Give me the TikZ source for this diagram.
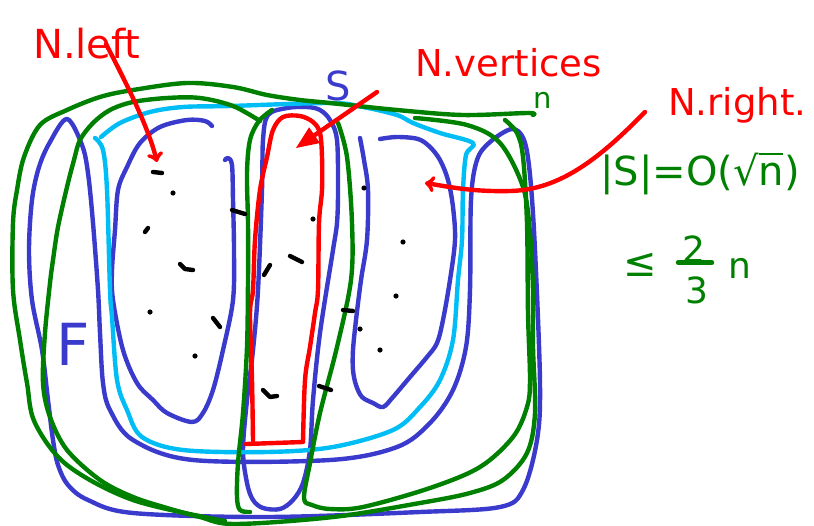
\documentclass[tikz,border=0pt]{standalone}
\usepackage{fontspec}
\setmainfont{DejaVu Sans}
\usetikzlibrary{arrows,positioning}
\definecolor{penblue}{RGB}{58,58,205}
\definecolor{pencyan}{RGB}{0,190,245}
\definecolor{pengreen}{RGB}{0,128,0}
\definecolor{penred}{RGB}{255,0,0}

\begin{document}
\begin{tikzpicture}[x=1pt, y=-1pt,
  pen/.style={line width=4.4pt, line cap=round, line join=round},
  vtick/.style={pen, black},
  vdot/.style={fill=black, radius=2.6pt},
  label/.style={inner sep=0pt, anchor=base west}]
\useasboundingbox (0,0) rectangle (814,525);

% region F: outer blue ring
\draw[pen, penblue] plot[smooth cycle, tension=0.55] coordinates {
  (67,119) (50,142) (39,167) (32,200) (29,250) (32,300) (42,350) (48,400)
  (53,440) (58,465) (68,485) (88,500) (133,513) (267,517) (420,512)
  (500,507) (523,490) (537,440) (540,383) (535,250) (530,175) (524,140)
  (512,129) (490,142) (477,160) (471,200) (470,290) (466,347) (453,390)
  (430,423) (397,447) (330,460) (193,460) (133,440) (110,410) (103,383)
  (100,333) (98,290) (93,223) (88,173) (82,145)};

% left part
\draw[pen, penblue] plot[smooth, tension=0.55] coordinates {
  (212,126) (205,121) (187,120) (160,127) (140,143) (127,167) (118,190)
  (115,230) (112,270) (113,300) (123,350) (137,383) (153,400) (167,413)
  (192,422) (203,413) (213,390) (223,350) (233,300) (234,250) (233,200)
  (232,165) (228,158) (225,160)};

% separator S
\draw[pen, penblue] plot[smooth cycle, tension=0.55] coordinates {
  (268,115) (287,108) (307,107) (320,110) (330,120) (337,140) (338,190)
  (337,223) (333,250) (320,333) (313,400) (310,450) (303,483) (293,500)
  (280,509) (263,508) (253,500) (247,483) (243,450) (247,400) (253,350)
  (258,290) (262,190) (263,140)};

% right part
\draw[pen, penblue] plot[smooth, tension=0.55] coordinates {
  (360,138) (364,160) (368,190) (367,240) (361,280) (356,320) (353,350)
  (353,370) (356,385) (362,397) (373,403) (383,407) (393,397) (410,377)
  (427,357) (437,343) (443,320) (450,280) (455,240) (453,207) (448,180)
  (440,160) (430,147) (418,139) (397,137) (380,139)};

% cyan loop
\draw[pen, pencyan] plot[smooth, tension=0.55] coordinates {
  (95,138) (103,150) (107,190) (110,290) (112,317) (117,380) (127,410)
  (142,437) (183,450) (267,452) (333,447) (393,430) (420,407) (440,380)
  (453,340) (458,280) (462,240) (463,190) (466,155) (473,143) (440,133)
  (413,123) (397,115) (363,107) (330,103) (230,106) (183,107) (150,112)
  (120,123) (101,137)};

% N.vertices strip
\draw[pen, penred] plot[smooth, tension=0.55] coordinates {
  (253,440) (252,380) (250,313) (253,290) (255,240) (260,190) (267,157)
  (273,130) (283,117) (300,116) (313,122) (320,133) (322,157) (322,190)
  (319,223) (318,290) (315,313) (310,347) (305,380) (303,442)}
  -- (246,444);

% green outlines
\draw[pen, pengreen] plot[smooth, tension=0.55] coordinates {
  (533,115) (528,113) (463,115) (397,110) (330,103) (300,100) (267,95)
  (233,87) (187,83) (133,90) (100,97) (67,110) (40,125) (24,157) (17,190)
  (13,223) (13,290) (20,340) (27,383) (35,423) (67,465) (133,500)
  (225,521)};
\draw[pen, pengreen] plot[smooth, tension=0.55] coordinates {
  (260,121) (233,106) (200,98) (167,98) (133,102) (110,110) (93,123)
  (80,140) (74,160) (67,187) (58,227) (53,260) (50,283) (45,333) (43,383)
  (50,417) (67,450) (100,480) (133,497) (167,508) (200,517) (235,524)
  (333,517) (420,503) (470,493) (503,480) (527,453) (535,413) (533,347)
  (533,290) (530,233) (523,187) (500,143) (467,125) (415,118)};
\draw[pen, pengreen] plot[smooth, tension=0.55] coordinates {
  (272,110) (259,121) (250,140) (247,173) (248,223) (248,280) (247,347)
  (243,413) (238,463) (237,497) (240,510) (250,512)};
\draw[pen, pengreen] plot[smooth, tension=0.55] coordinates {
  (338,123) (347,157) (352,223) (351,280) (337,347) (320,413) (310,463)
  (304,498) (312,505) (330,509) (363,507) (430,488) (480,467) (513,437)
  (527,407) (530,380) (528,313) (527,223) (523,157) (517,133) (505,120)};

% vertices
\foreach \x/\y in {173/193, 313/219, 364/188, 403/242, 150/312, 195/356,
  396/296, 360/329, 380/350}
  \fill[vdot] (\x,\y) circle;
\draw[vtick] (153,172) -- (162,173);
\draw[vtick] (145,232) -- (148,228);
\draw[vtick] (180,264) -- (185,269) -- (193,270);
\draw[vtick] (232,210) -- (245,214);
\draw[vtick] (213,318) -- (220,327);
\draw[vtick] (290,256) -- (302,262);
\draw[vtick] (270,265) -- (264,275);
\draw[vtick] (263,390) -- (270,397) -- (277,396);
\draw[vtick] (343,310) -- (353,311);
\draw[vtick] (319,386) -- (331,390);

% labels
\node[label, penred, font=\fontsize{40}{40}\selectfont] (nleft) at (33,58) {N.left};
\node[label, penred, font=\fontsize{37}{37}\selectfont] (nvert) at (415,76) {N.vertices};
\node[label, penred, font=\fontsize{37}{37}\selectfont] (nright) at (668,115) {N.right.};
\node[label, penblue, font=\fontsize{40}{40}\selectfont] (sname) at (325,100) {S};
\node[label, pengreen, font=\fontsize{29}{29}\selectfont] (nname) at (533,108) {n};
\node[label, penblue, font=\fontsize{58}{58}\selectfont] (fname) at (56,365) {F};
\node[label, pengreen, font=\fontsize{40}{40}\selectfont] (bound) at (600,185)
  {|S|=O(√\makebox[0pt][l]{\rule[0.74em]{0.62em}{0.07em}}n)};
\node[pengreen, inner sep=0pt, font=\fontsize{40}{40}\selectfont] (leq) at (640,265) {≤};
\node[pengreen, inner sep=0pt, font=\fontsize{36}{36}\selectfont] (two) at (694,249) {2};
\node[pengreen, inner sep=0pt, font=\fontsize{36}{36}\selectfont] (three) at (697,290) {3};
\node[label, pengreen, font=\fontsize{36}{36}\selectfont] (nfrac) at (728,278) {n};
\draw[pen, pengreen] ([xshift=-16pt]two.south) -- ([xshift=18pt]two.south);

% arrows
\coordinate (lefttip) at (157,162);
\coordinate (verttip) at (296,148);
\coordinate (righttip) at (425,183);
\draw[pen, penred, ->] ([xshift=73pt, yshift=14pt]nleft.base west)
  .. controls (122,75) and (148,125) .. (lefttip);
\draw[pen, penred, -triangle 45] ([xshift=-38pt, yshift=-16pt]nvert.base west) -- (verttip);
\draw[pen, penred, ->] ([xshift=-23pt, yshift=3pt]nright.base west)
  .. controls (600,158) and (560,190) .. (510,191)
  .. controls (470,192) and (445,186) .. (righttip);
\end{tikzpicture}
\end{document}
